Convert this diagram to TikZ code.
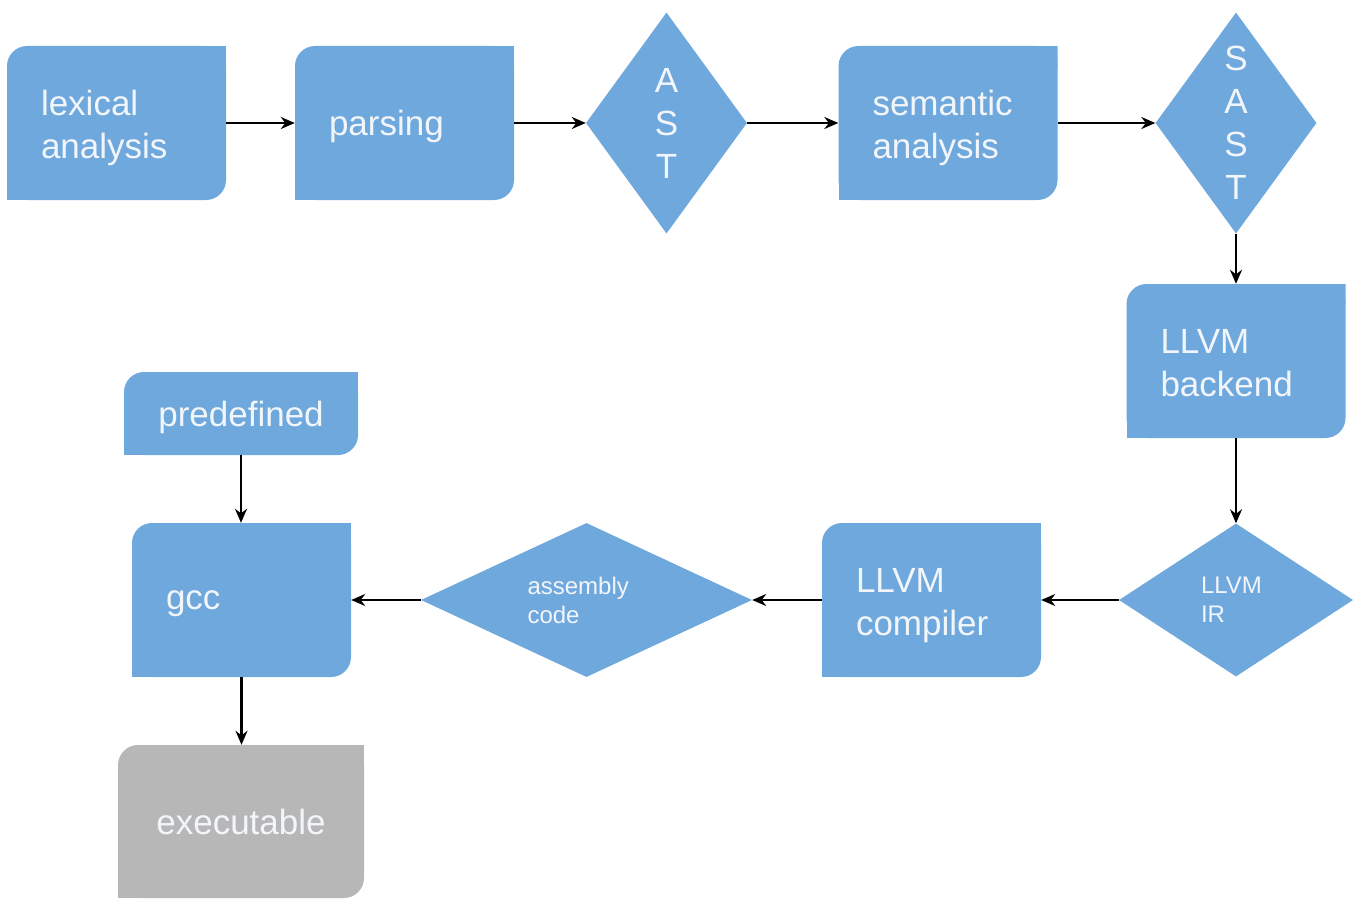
\documentclass[tikz,border=0pt]{standalone}
\usepackage{fontspec}
\setmainfont{Liberation Sans}
\usetikzlibrary{arrows.meta}
\usetikzlibrary{shapes.geometric}

\definecolor{stepblue}{RGB}{111,168,220}
\definecolor{stepgrey}{RGB}{183,183,183}
\definecolor{steptext}{RGB}{242,246,251}
\newcommand{\cornerrad}{20pt}
\newcommand{\stepfont}{\fontsize{35}{43}\selectfont}
\newcommand{\smallstepfont}{\fontsize{24}{29}\selectfont}

\tikzset{
  leafshape/.style={rectangle,inner sep=0pt,text depth=0pt,
    path picture={
      \fill[#1,rounded corners=\cornerrad] (path picture bounding box.south west)
        rectangle (path picture bounding box.north east);
      \fill[#1] (path picture bounding box.north east)
        rectangle ([xshift=-\cornerrad,yshift=-\cornerrad]path picture bounding box.north east);
      \fill[#1] (path picture bounding box.south west)
        rectangle ([xshift=\cornerrad,yshift=\cornerrad]path picture bounding box.south west);}},
  block/.style={leafshape=stepblue,minimum height=154pt,text width=151pt,
    inner xsep=34pt,align=left,text=steptext,font=\stepfont},
  twoline/.style={text depth=40pt},
  decision/.style={diamond,fill=stepblue,inner sep=2pt,align=center,
    text=steptext,font=\stepfont},
}

\begin{document}
\begin{tikzpicture}[x=1pt,y=-1pt]

  \useasboundingbox (0,0) rectangle (1362,899);

  \node [block,twoline] (lex) at (116.5,123) {lexical\\analysis};
  \node [block] (parse)    at (404.5,123) {parsing};
  \node [decision,aspect=0.73,minimum width=161pt,minimum height=221pt] (ast) at (666.5,123) {A\\S\\T};
  \node [block,twoline] (sem) at (948,123) {semantic\\analysis};
  \node [decision,aspect=0.73,minimum width=161pt,minimum height=221pt] (sast) at (1236,123) {S\\A\\S\\T};
  \node [block,twoline] (backend) at (1236,361) {LLVM\\backend};
  \node [decision,aspect=1.53,minimum width=234pt,minimum height=153pt,align=left,
         text width=70pt,font=\smallstepfont] (ir) at (1236,600) {LLVM\\IR};
  \node [block,twoline] (compiler) at (931.5,600) {LLVM\\compiler};
  \node [decision,aspect=2.15,minimum width=331pt,minimum height=154pt,align=left,
         text width=118pt,font=\smallstepfont] (asm) at (586.5,600) {assembly\\code};
  \node [block] (gcc)      at (241.5,600) {gcc};
  \node [leafshape=stepblue,minimum width=234pt,minimum height=83pt,
         text=steptext,font=\stepfont] (predef) at (241,413.5) {predefined};
  \node [leafshape=stepgrey,minimum width=246pt,minimum height=153pt,
         text=steptext,font=\stepfont] (exe) at (241,821.5) {executable};

  \path [draw,line width=2.2pt,->,>={Stealth[length=14pt,width=12pt]}]
    (lex)      edge (parse)
    (parse)    edge (ast)
    (ast)      edge (sem)
    (sem)      edge (sast)
    (sast)     edge (backend)
    (backend)  edge (ir)
    (ir)       edge (compiler)
    (compiler) edge (asm)
    (asm)      edge (gcc)
    (predef)   edge (predef |- gcc.north)
    (gcc)      edge (gcc |- exe.north);

\end{tikzpicture}
\end{document}
